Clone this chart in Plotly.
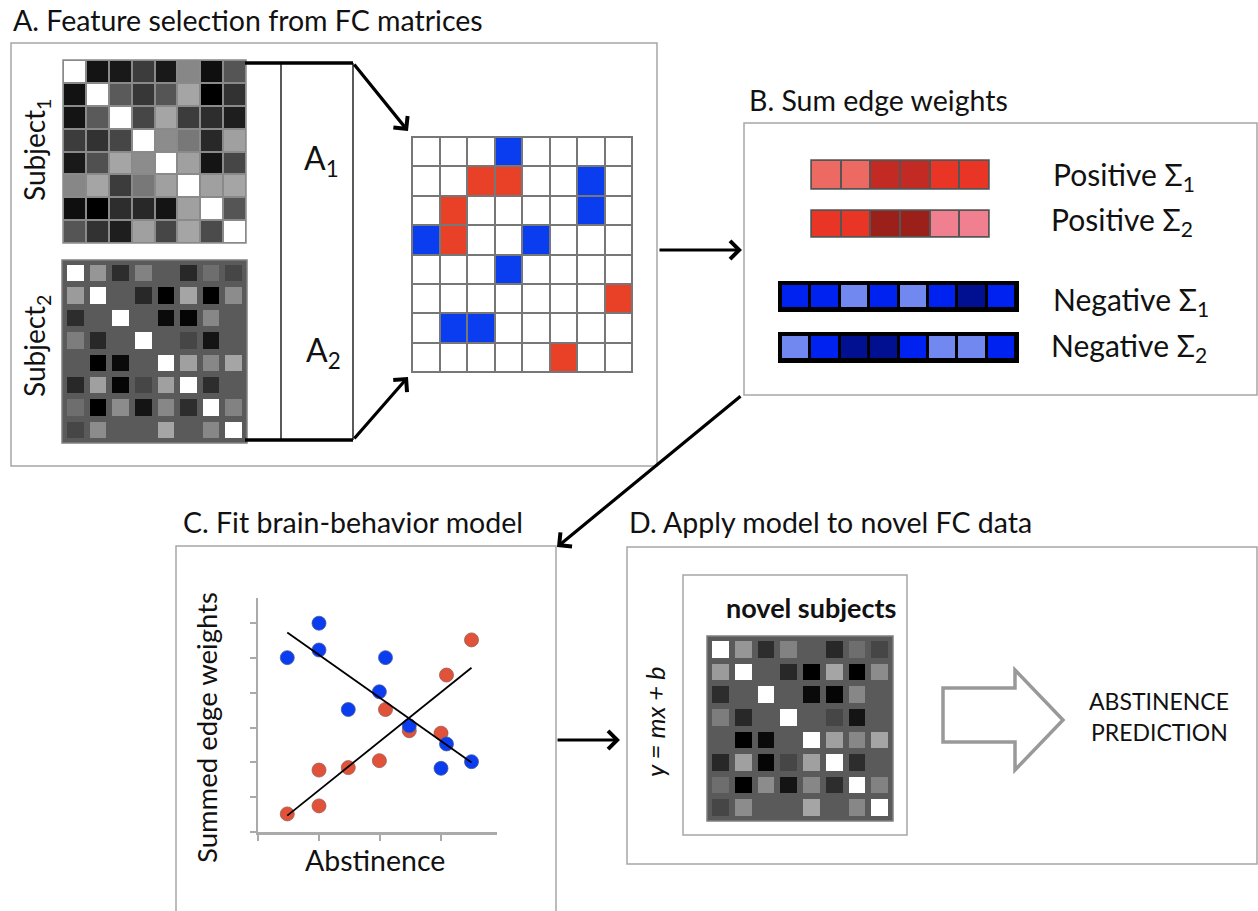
import plotly.graph_objects as go

W, H = 1258, 911
FONT = "Lato, 'Open Sans', sans-serif"
TXT = "#111111"

# ---------------- data ----------------
subject1 = [
    [255, 20, 25, 60, 25, 135, 15, 85],
    [18, 255, 90, 55, 85, 165, 0, 50],
    [20, 90, 255, 70, 165, 60, 45, 30],
    [60, 50, 70, 255, 140, 120, 40, 160],
    [25, 80, 165, 140, 255, 160, 20, 70],
    [135, 165, 60, 120, 160, 255, 160, 165],
    [15, 0, 45, 40, 20, 160, 255, 85],
    [85, 50, 30, 160, 70, 165, 75, 255],
]
subject2 = [
    [255, 150, 45, 130, 90, 40, 110, 70],
    [155, 255, 90, 40, 0, 165, 0, 140],
    [45, 90, 255, 90, 10, 5, 135, 90],
    [125, 40, 90, 255, 90, 70, 20, 90],
    [90, 0, 10, 90, 255, 160, 135, 165],
    [40, 160, 5, 70, 160, 255, 45, 90],
    [110, 0, 140, 20, 135, 45, 255, 130],
    [70, 140, 90, 90, 165, 90, 135, 255],
]
novel_subject = subject2
# selected edges: 1 = positive, -1 = negative, 0 = not selected
selected_edges = [
    [0, 0, 0, -1, 0, 0, 0, 0],
    [0, 0, 1, 1, 0, 0, -1, 0],
    [0, 1, 0, 0, 0, 0, -1, 0],
    [-1, 1, 0, 0, -1, 0, 0, 0],
    [0, 0, 0, -1, 0, 0, 0, 0],
    [0, 0, 0, 0, 0, 0, 0, 1],
    [0, -1, -1, 0, 0, 0, 0, 0],
    [0, 0, 0, 0, 0, 1, 0, 0],
]
positive_sum1 = [2, 2, 4, 4, 3, 3]
positive_sum2 = [3, 3, 5, 5, 1, 1]
negative_sum1 = [2, 2, 1, 2, 1, 2, 3, 2]
negative_sum2 = [1, 2, 3, 3, 2, 1, 1, 2]

neg_x = [0.48, 1.0, 1.0, 2.09, 1.99, 1.48, 2.48, 3.09, 3.0, 3.5]
neg_y = [5.01, 6.0, 5.23, 5.01, 4.03, 3.52, 3.05, 2.53, 1.83, 2.02]
pos_x = [0.48, 1.0, 1.0, 1.48, 1.99, 2.09, 2.48, 3.0, 3.09, 3.5]
pos_y = [0.52, 0.75, 1.78, 1.85, 2.05, 3.52, 2.91, 2.84, 4.51, 5.52]
fit_x = [0.48, 3.5]
neg_fit_y = [5.73, 2.0]
pos_fit_y = [0.47, 4.72]

# ---------------- helpers ----------------
def dom_x(x0, x1):
    return [x0 / W, x1 / W]

def dom_y(y0, y1):
    return [1 - y1 / H, 1 - y0 / H]

fig = go.Figure()
layout = dict(
    width=W, height=H, margin=dict(l=0, r=0, t=0, b=0),
    paper_bgcolor="white", plot_bgcolor="rgba(0,0,0,0)",
    showlegend=False,
    xaxis=dict(domain=[0, 1], range=[0, W], visible=False, fixedrange=True),
    yaxis=dict(domain=[0, 1], range=[H, 0], visible=False, fixedrange=True),
)
fig.add_trace(go.Scatter(x=[0], y=[0], mode="markers", marker=dict(opacity=0), hoverinfo="skip"))

shapes = []
annotations = []
axis_counter = [1]

def add_heat(z, box, colorscale, zmin, zmax, gap, ygap=None):
    axis_counter[0] += 1
    n = axis_counter[0]
    x0, y0, x1, y1 = box
    rows, cols = len(z), len(z[0])
    layout[f"xaxis{n}"] = dict(domain=dom_x(x0, x1), range=[-0.5, cols - 0.5], visible=False,
                               anchor=f"y{n}", fixedrange=True)
    layout[f"yaxis{n}"] = dict(domain=dom_y(y0, y1), range=[rows - 0.5, -0.5], visible=False,
                               anchor=f"x{n}", fixedrange=True)
    fig.add_trace(go.Heatmap(z=z, xaxis=f"x{n}", yaxis=f"y{n}", colorscale=colorscale,
                             zmin=zmin, zmax=zmax, showscale=False, xgap=gap,
                             ygap=gap if ygap is None else ygap, hoverinfo="skip"))

def rect(x0, y0, x1, y1, line="#a6a6a6", width=1.5, fill=None, layer="above"):
    shapes.append(dict(type="rect", xref="x", yref="y", x0=x0, y0=y0, x1=x1, y1=y1,
                       line=dict(color=line, width=width),
                       fillcolor=fill if fill else "rgba(0,0,0,0)", layer=layer))

def line(x0, y0, x1, y1, color="black", width=1.2):
    shapes.append(dict(type="line", xref="x", yref="y", x0=x0, y0=y0, x1=x1, y1=y1,
                       line=dict(color=color, width=width), layer="above"))

def text(x, y, s, size=22, xanchor="left", angle=0, color=TXT, family=FONT):
    annotations.append(dict(x=x, y=y, xref="x", yref="y", text=s, showarrow=False,
                            xanchor=xanchor, yanchor="middle", textangle=angle,
                            font=dict(family=family, size=size, color=color)))

def arrow(xt, yt, xh, yh, width=3.2):
    annotations.append(dict(x=xh, y=yh, ax=xt, ay=yt, xref="x", yref="y", axref="x", ayref="y",
                            text="", showarrow=True, arrowhead=4, arrowsize=1.1,
                            arrowwidth=width, arrowcolor="black", standoff=0))

gray_cs = [[0, "black"], [1, "white"]]
sel_cs = [[0, "#0a3cf0"], [0.5, "#ffffff"], [1, "#e84128"]]
pos_cs = [[0, "#f08090"], [0.25, "#ec6a62"], [0.5, "#e93526"], [0.75, "#c32a23"], [1, "#9b2019"]]
neg_cs = [[0, "#7088f0"], [0.5, "#0022f0"], [1, "#001090"]]

TITLE = 28.5

# ---------------- Panel A ----------------
text(11, 20, "A. Feature selection from FC matrices", TITLE)
rect(11, 43, 657, 466)
rect(63, 60, 246, 243, line="#8a8a8a", width=1.5, fill="#8a8a8a", layer="below")
add_heat(subject1, (63, 60, 246, 243), gray_cs, 0, 255, 2)
rect(62, 260, 247, 443, line="#808080", width=1.5, fill="#5a5a5a", layer="below")
add_heat(subject2, (64, 262, 245, 441), gray_cs, 0, 255, 6)
text(36, 150, "Subject<sub>1</sub>", 28, xanchor="center", angle=-90)
text(36, 346, "Subject<sub>2</sub>", 28, xanchor="center", angle=-90)

line(245, 63, 353, 63, width=3.5)
line(245, 440, 353, 440, width=3.5)
line(281, 63, 281, 440, width=1.3)
line(353, 63, 353, 440, width=1.3)
text(321, 160, "A<sub>1</sub>", 32, xanchor="center")
text(323, 352, "A<sub>2</sub>", 32, xanchor="center")
arrow(353, 63, 408, 131)
arrow(353, 440, 408, 377)

rect(412, 137, 632, 372, line="#777777", width=2, fill="#777777", layer="below")
add_heat(selected_edges, (412, 137, 632, 372), sel_cs, -1, 1, 2)

arrow(658, 250, 742, 250)

# ---------------- Panel B ----------------
text(747, 100, "B. Sum edge weights", TITLE)
rect(744, 123, 1257, 395)
rect(811, 160, 989, 189, line="#555555", width=1.5, fill="#555555", layer="below")
add_heat([positive_sum1], (811, 160, 989, 189), pos_cs, 1, 5, 2)
rect(811, 210, 989, 237, line="#555555", width=1.5, fill="#555555", layer="below")
add_heat([positive_sum2], (811, 210, 989, 237), pos_cs, 1, 5, 2)
rect(779, 282, 1018, 311, line="black", width=2, fill="black", layer="below")
add_heat([negative_sum1], (781, 284, 1016, 309), neg_cs, 1, 3, 3, 3)
rect(779, 333, 1018, 362, line="black", width=2, fill="black", layer="below")
add_heat([negative_sum2], (781, 335, 1016, 360), neg_cs, 1, 3, 3, 3)
text(1051, 176, "Positive Σ<sub>1</sub>", 30)
text(1049, 221, "Positive Σ<sub>2</sub>", 30)
text(1051, 301, "Negative Σ<sub>1</sub>", 30)
text(1049, 347, "Negative Σ<sub>2</sub>", 30)

arrow(742, 395, 557, 547)

# ---------------- Panel C ----------------
text(181, 522, "C. Fit brain-behavior model", TITLE)
rect(176, 546, 556, 930)
axis_counter[0] += 1
n = axis_counter[0]
layout[f"xaxis{n}"] = dict(domain=dom_x(258, 497), range=[0, (497 - 258) / 61.0], anchor=f"y{n}",
                           showline=True, linecolor="#aaaaaa", linewidth=2.5, ticks="outside",
                           tickcolor="#aaaaaa", tickwidth=2, ticklen=6, tick0=0, dtick=1,
                           showticklabels=False, showgrid=False, zeroline=False, fixedrange=True)
layout[f"yaxis{n}"] = dict(domain=dom_y(598, 832), range=[0, (832 - 598) / 34.8], anchor=f"x{n}",
                           showline=True, linecolor="#aaaaaa", linewidth=2.5, ticks="outside",
                           tickcolor="#aaaaaa", tickwidth=2, ticklen=6, tick0=0, dtick=1,
                           showticklabels=False, showgrid=False, zeroline=False, fixedrange=True)
fig.add_trace(go.Scatter(x=pos_x, y=pos_y, mode="markers", xaxis=f"x{n}", yaxis=f"y{n}",
                         marker=dict(size=14, color="#e0533a", line=dict(width=0.8, color="#9a5a50")),
                         hoverinfo="skip", cliponaxis=False))
fig.add_trace(go.Scatter(x=neg_x, y=neg_y, mode="markers", xaxis=f"x{n}", yaxis=f"y{n}",
                         marker=dict(size=14, color="#0a3cf0", line=dict(width=0.8, color="#4a5a9a")),
                         hoverinfo="skip", cliponaxis=False))
fig.add_trace(go.Scatter(x=fit_x, y=neg_fit_y, mode="lines", xaxis=f"x{n}", yaxis=f"y{n}",
                         line=dict(color="black", width=1.8), hoverinfo="skip"))
fig.add_trace(go.Scatter(x=fit_x, y=pos_fit_y, mode="lines", xaxis=f"x{n}", yaxis=f"y{n}",
                         line=dict(color="black", width=1.8), hoverinfo="skip"))
text(206, 728, "Summed edge weights", 27.5, xanchor="center", angle=-90)
text(375, 860, "Abstinence", 28.5, xanchor="center")

arrow(556, 740, 620, 740)

# ---------------- Panel D ----------------
text(627, 522, "D. Apply model to novel FC data", TITLE)
rect(627, 547, 1257, 864)
rect(683, 575, 907, 835)
text(811, 607, "<b>novel subjects</b>", 27, xanchor="center")
rect(707, 636, 893, 821, line="#808080", width=1.5, fill="#5a5a5a", layer="below")
add_heat(novel_subject, (709, 638, 891, 819), gray_cs, 0, 255, 6)
text(655, 722, "<i>y = mx + b</i>", 25.5, xanchor="center", angle=-90)

shapes.append(dict(type="path", xref="x", yref="y",
                   path="M943,688 L1015,688 L1015,670 L1063,720 L1015,770 L1015,742 L943,742 Z",
                   line=dict(color="#999999", width=3.5), fillcolor="white", layer="above"))
text(1159, 701, "ABSTINENCE", 23, xanchor="center")
text(1159, 732, "PREDICTION", 23, xanchor="center")

layout["shapes"] = shapes
layout["annotations"] = annotations
fig.update_layout(**layout)
fig.write_html("out.html", config={"displayModeBar": False, "staticPlot": True})

# remove default page margin so the figure sits at the window origin
with open("out.html", "r", encoding="utf-8") as f:
    html = f.read()
html = html.replace("<head>", "<head><style>html,body{margin:0;padding:0;overflow:hidden;}</style>", 1)
with open("out.html", "w", encoding="utf-8") as f:
    f.write(html)
